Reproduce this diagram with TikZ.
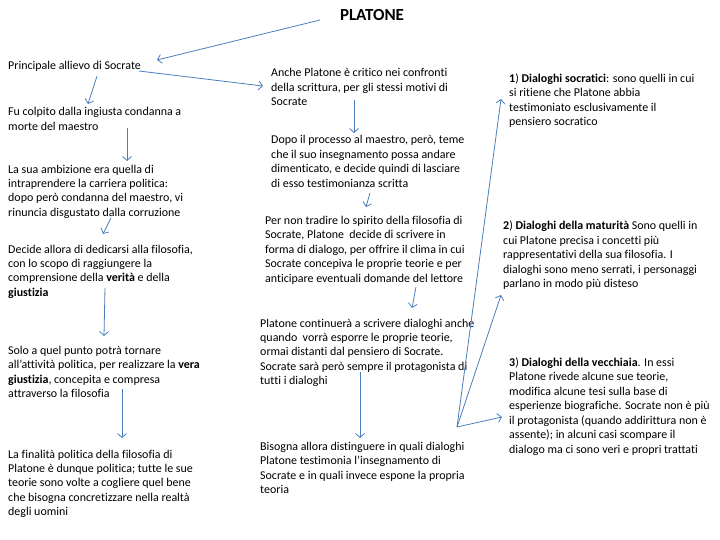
\documentclass[tikz,border=0pt]{standalone}
\usepackage{fontspec}
\setmainfont{Carlito}[Ligatures=NoCommon]
\usepackage{xcolor}
\usetikzlibrary{arrows.meta}
\definecolor{lineblue}{RGB}{74,126,187}

\begin{document}
\begin{tikzpicture}[x=1bp, y=-1bp,
  txt/.style={anchor=north west, inner sep=0pt, align=left, font=\fontsize{12}{14.5}\selectfont},
  arr/.style={draw=lineblue, line width=0.8pt, -{Straight Barb[length=4pt,width=9pt]}}]
  % page size of the slide
  \useasboundingbox (0,0) rectangle (720,540);

  % title
  \node[inner sep=0pt, font=\fontsize{17}{20}\selectfont\bfseries] (platone) at (372,15) {PLATONE};

  % left column
  \node[txt] (allievo) at (8,61.5) {Principale allievo di Socrate};
  \node[txt] (condanna) at (8,107.5) {Fu colpito dalla ingiusta condanna a\\morte del maestro};
  \node[txt] (ambizione) at (8,164.5) {La sua ambizione era quella di\\intraprendere la carriera politica:\\dopo però condanna del maestro, vi\\rinuncia disgustato dalla corruzione};
  \node[txt] (filosofia) at (8,244.5) {Decide allora di dedicarsi alla filosofia,\\con lo scopo di raggiungere la\\comprensione della \textbf{verità} e della\\\textbf{giustizia}};
  \node[txt] (ritorno) at (8,346) {Solo a quel punto potrà tornare\\all’attività politica, per realizzare la \textbf{vera}\\\textbf{giustizia}, concepita e compresa\\attraverso la filosofia};
  \node[txt] (finalita) at (8,449.5) {La finalità politica della filosofia di\\Platone è dunque politica; tutte le sue\\teorie sono volte a cogliere quel bene\\che bisogna concretizzare nella realtà\\degli uomini};

  % middle column
  \node[txt] (scrittura) at (271,68.5) {Anche Platone è critico nei confronti\\della scrittura, per gli stessi motivi di\\Socrate};
  \node[txt] (processo) at (271,135.5) {Dopo il processo al maestro, però, teme\\che il suo insegnamento possa andare\\dimenticato, e decide quindi di lasciare\\di esso testimonianza scritta};
  \node[txt] (forma) at (265,216) {Per non tradire lo spirito della filosofia di\\Socrate, Platone\ \ decide di scrivere in\\forma di dialogo, per offrire il clima in cui\\Socrate concepiva le proprie teorie e per\\anticipare eventuali domande del lettore};
  \node[txt] (continua) at (260,318.5) {Platone continuerà a scrivere dialoghi anche\\quando\ \ vorrà esporre le proprie teorie,\\ormai distanti dal pensiero di Socrate.\\Socrate sarà però sempre il protagonista di\\tutti i dialoghi};
  \node[txt] (distinguere) at (260,442) {Bisogna allora distinguere in quali dialoghi\\Platone testimonia l’insegnamento di\\Socrate e in quali invece espone la propria\\teoria};

  % right column
  \node[txt] (socratici) at (509,73.5) {\textbf{1}) \textbf{Dialoghi socratici}: sono quelli in cui\\si ritiene che Platone abbia\\testimoniato esclusivamente il\\pensiero socratico};
  \node[txt] (maturita) at (503,221) {\textbf{2}) \textbf{Dialoghi della maturità} Sono quelli in\\cui Platone precisa i concetti più\\rappresentativi della sua filosofia. I\\dialoghi sono meno serrati, i personaggi\\parlano in modo più disteso};
  \node[txt] (vecchiaia) at (509,357.5) {\textbf{3}) \textbf{Dialoghi della vecchiaia}. In essi\\Platone rivede alcune sue teorie,\\modifica alcune tesi sulla base di\\esperienze biografiche. Socrate non è più\\il protagonista (quando addirittura non è\\assente); in alcuni casi scompare il\\dialogo ma ci sono veri e propri trattati};

  % arrow end points
  \coordinate (p0) at (320,20);   \coordinate (p1) at (157,60);
  \coordinate (q0) at (139,71);   \coordinate (q1) at (263,86);
  \coordinate (r0) at (97,76);    \coordinate (r1) at (88,104);
  \coordinate (s0) at (127,128);  \coordinate (s1) at (127,161);
  \coordinate (t0) at (111,218);  \coordinate (t1) at (103,234);
  \coordinate (u0) at (105,288);  \coordinate (u1) at (104,336);
  \coordinate (v0) at (122,389);  \coordinate (v1) at (122,438);
  \coordinate (w0) at (354,100);  \coordinate (w1) at (354,133);
  \coordinate (x0) at (370,193);  \coordinate (x1) at (366,207);
  \coordinate (y0) at (416,287);  \coordinate (y1) at (412,308);
  \coordinate (z0) at (360,372);  \coordinate (z1) at (360,438);
  \coordinate (fan) at (457,427);
  \coordinate (f1) at (501,99);
  \coordinate (f2) at (501,295);
  \coordinate (f3) at (502,417);

  % connectors
  \draw[arr] (p0) -- (p1);
  \draw[arr] (q0) -- (q1);
  \draw[arr] (r0) -- (r1);
  \draw[arr] (s0) -- (s1);
  \draw[arr] (t0) -- (t1);
  \draw[arr] (u0) -- (u1);
  \draw[arr] (v0) -- (v1);
  \draw[arr] (w0) -- (w1);
  \draw[arr] (x0) -- (x1);
  \draw[arr] (y0) -- (y1);
  \draw[arr] (z0) -- (z1);
  \draw[arr] (fan) -- (f1);
  \draw[arr] (fan) -- (f2);
  \draw[arr] (fan) -- (f3);
\end{tikzpicture}
\end{document}
